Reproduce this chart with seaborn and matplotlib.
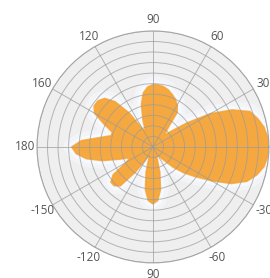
import numpy as np
import pandas as pd
import matplotlib
matplotlib.use("Agg")
import matplotlib.pyplot as plt
import seaborn as sns

# angles (degrees) and radius values
angles_deg = list(range(0, 360, 5))
radius = [11.0, 10.9, 10.7, 10.3, 9.8, 8.3, 6.3, 4.0, 2.4, 1.6,
          1.9, 4.0, 4.6, 5.0, 5.3, 5.6, 5.8, 5.9, 5.9, 5.7,
          5.2, 4.2, 2.8, 1.7, 1.9, 3.9, 5.6, 6.5, 6.8, 6.8,
          6.4, 5.1, 4.1, 4.1, 5.1, 6.8, 7.7, 7.3, 6.4, 5.0,
          3.4, 2.4, 2.9, 4.6, 5.2, 5.2, 4.8, 2.9, 1.4, 0.9,
          1.1, 2.5, 4.1, 5.1, 5.4, 5.1, 4.1, 2.5, 1.1, 0.85,
          0.9, 1.2, 1.7, 2.7, 3.8, 4.9, 6.4, 8.2, 9.5, 10.2,
          10.7, 10.9]
tick_angles = [0, 30, 60, 90, 120, 150, 180, 210, 240, 270, 300, 330]
tick_labels = ["0", "30", "60", "90", "120", "160", "180", "-150", "-120", "90", "-60", "-30"]
ring_values = list(range(1, 12))

sns.set_style("white")
plt.rcParams['font.family'] = ['Open Sans', 'DejaVu Sans']

df = pd.DataFrame({"theta": np.deg2rad(angles_deg + [angles_deg[0]]),
                   "r": radius + [radius[0]]})

fig = plt.figure(figsize=(2.70, 2.78), dpi=100)
ax = fig.add_axes([0.137, 0.054, 0.859, 0.835], projection="polar")
ax.set_facecolor("#efefef")

# soft halo around the shape
ax.plot(df["theta"], df["r"], color="#f5f9fe", lw=12, alpha=0.6, zorder=1, solid_joinstyle="round")
ax.plot(df["theta"], df["r"], color="#f8fbff", lw=6, alpha=0.8, zorder=1, solid_joinstyle="round")
ax.fill(df["theta"], df["r"], color="#f4f8fd", alpha=0.8, zorder=1)
ax.fill(df["theta"], df["r"], color="#f7a230", alpha=0.92, zorder=2, lw=0)
sns.lineplot(data=df, x="theta", y="r", sort=False, ax=ax, color="#f7a230",
             lw=1.2, alpha=0.8, zorder=2, estimator=None)

ax.set_ylim(0, 11)
ax.set_yticks(ring_values)
ax.set_yticklabels([])
ax.set_xticks(np.deg2rad(tick_angles))
ax.set_xticklabels(tick_labels, fontsize=8.5, color="#555555")
ax.tick_params(axis="x", pad=-2)
ax.grid(True, color="#9a9a9a", lw=0.7, alpha=0.7, zorder=3)
ax.set_axisbelow(False)
ax.spines["polar"].set_color("#aaaaaa")
ax.spines["polar"].set_linewidth(0.8)
ax.set_xlabel("")
ax.set_ylabel("")

fig.savefig("out.png", dpi=100)
